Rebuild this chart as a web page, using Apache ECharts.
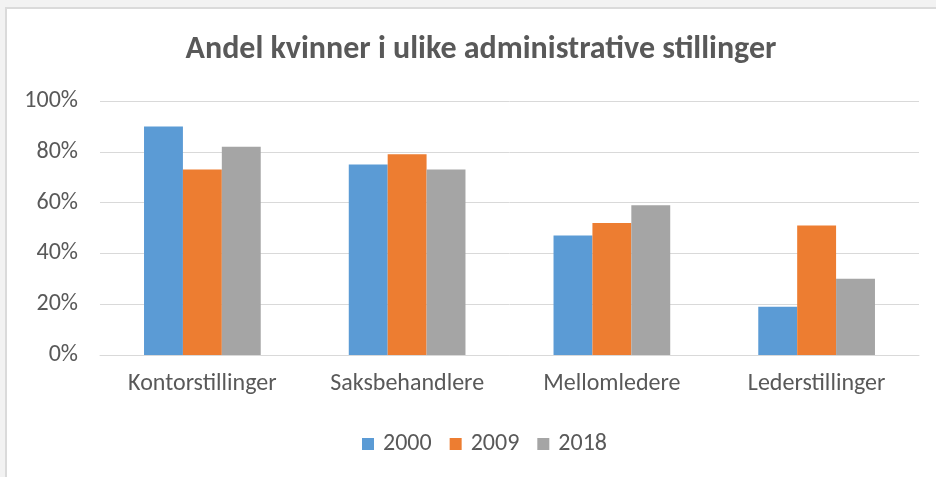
<!DOCTYPE html>
<html>
<head>
<meta charset="utf-8">
<script src="https://cdn.jsdelivr.net/npm/echarts@6/dist/echarts.min.js"></script>
<style>
  html, body { margin: 0; padding: 0; background: #f2f2f2; }
  #frame {
    position: absolute; left: 5px; top: 7px; right: 0; bottom: 0;
    background: #fff; border-left: 2px solid #dadada; border-top: 2px solid #dadada;
  }
  #chart { position: absolute; left: -7px; top: -9px; width: 936px; height: 477px; }
</style>
</head>
<body>
<div id="frame"><div id="chart"></div></div>
<script>
const categories = ['Kontorstillinger', 'Saksbehandlere', 'Mellomledere', 'Lederstillinger']
const years = ['2000', '2009', '2018']
const values2000 = [90, 75, 47, 19]
const values2009 = [73, 79, 52, 51]
const values2018 = [82, 73, 59, 30]
const yTicks = [0, 20, 40, 60, 80, 100]
const colors = ['#5b9bd5', '#ed7d31', '#a5a5a5']

const font = 'Carlito, Lato, "Open Sans", sans-serif'
const chart = echarts.init(document.getElementById('chart'))

const seriesData = [values2000, values2009, values2018]
chart.setOption({
    animation: false,
    color: colors,
    title: {
        text: 'Andel kvinner i ulike administrative stillinger',
        left: 476,
        textAlign: 'center',
        top: 29,
        textStyle: { fontFamily: font, fontSize: 32, fontWeight: 'bold', color: '#595959' }
    },
    legend: {
        data: years,
        left: 357,
        top: 427,
        icon: 'rect',
        itemWidth: 12,
        itemHeight: 12,
        itemGap: 18,
        textStyle: { fontFamily: font, fontSize: 24, color: '#595959', padding: [0, 0, 0, 4] }
    },
    grid: { left: 100, right: 17, top: 101, bottom: 122 },
    xAxis: {
        type: 'category',
        data: categories,
        axisTick: { show: false },
        axisLine: { lineStyle: { color: '#d9d9d9', width: 1 } },
        axisLabel: { margin: 17, fontFamily: font, fontSize: 24, color: '#595959' }
    },
    yAxis: {
        type: 'value',
        min: yTicks[0],
        max: yTicks[yTicks.length - 1],
        interval: 20,
        axisLine: { show: false },
        axisTick: { show: false },
        splitLine: { lineStyle: { color: '#d9d9d9', width: 1 } },
        axisLabel: {
            margin: 22, fontFamily: font, fontSize: 24, color: '#595959',
            formatter: v => v + '%'
        }
    },
    series: years.map((y, i) => ({
        name: y,
        type: 'bar',
        data: seriesData[i],
        barGap: '0%',
        barCategoryGap: '43%'
    }))
})
</script>
</body>
</html>
